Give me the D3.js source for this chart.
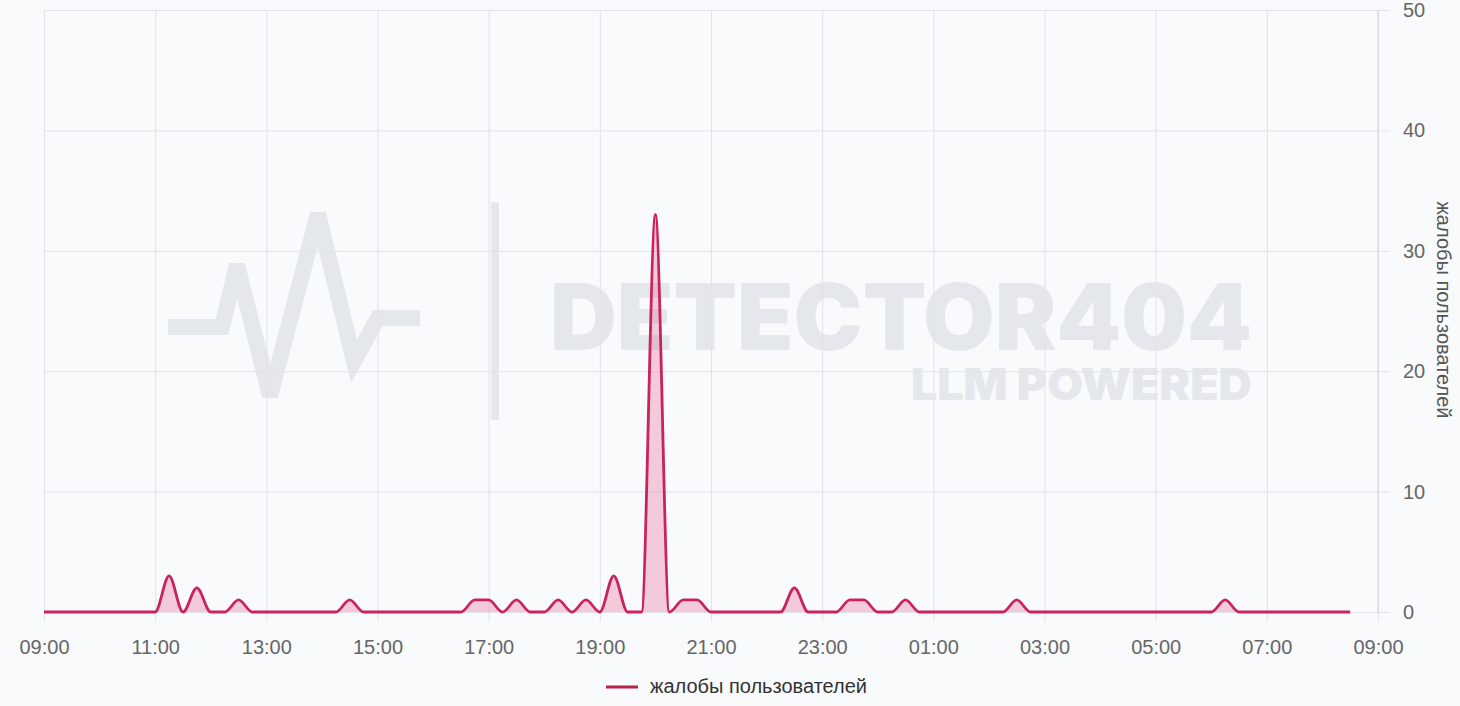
<!DOCTYPE html>
<html>
<head>
<meta charset="utf-8">
<script src="https://cdn.jsdelivr.net/npm/d3@7"></script>
<style>
  body { margin: 0; background: #f8fafc; }
  svg { display: block; font-family: "Liberation Sans", Arial, sans-serif; }
</style>
</head>
<body>
<div id="chart-container"></div>
<script>
// series: complaints per 15 minutes, starting 09:00, one row per hour
var startTime = "2024-05-01T09:00:00";
var stepMinutes = 15;
var complaints = [
    0, 0, 0, 0,     // 09
    0, 0, 0, 0,     // 10
    0, 3, 0, 2,     // 11
    0, 0, 1, 0,     // 12
    0, 0, 0, 0,     // 13
    0, 0, 1, 0,     // 14
    0, 0, 0, 0,     // 15
    0, 0, 0, 1,     // 16
    1, 0, 1, 0,     // 17
    0, 1, 0, 1,     // 18
    0, 3, 0, 0,     // 19
    33, 0, 1, 1,    // 20
    0, 0, 0, 0,     // 21
    0, 0, 2, 0,     // 22
    0, 0, 1, 1,     // 23
    0, 0, 1, 0,     // 00
    0, 0, 0, 0,     // 01
    0, 0, 1, 0,     // 02
    0, 0, 0, 0,     // 03
    0, 0, 0, 0,     // 04
    0, 0, 0, 0,     // 05
    0, 1, 0, 0,     // 06
    0, 0, 0, 0,     // 07
    0, 0, 0         // 08
];
var yTicks = [0, 10, 20, 30, 40, 50];
var seriesName = "жалобы пользователей";
var watermarkTitle = "DETECTOR404";
var watermarkSub = "LLM POWERED";

var w = 1460, h = 706;
var padLeft = 44, padRight = 1378, padTop = 10, padBottom = 612;

var t0 = new Date(startTime);
var t1 = d3.timeHour.offset(t0, 24);
var dataset = complaints.map(function(v, i){
    return { t: d3.timeMinute.offset(t0, i * stepMinutes), v: v };
});

var xScale = d3.scaleTime()
    .domain([t0, t1])
    .range([padLeft, padRight]);
var yScale = d3.scaleLinear()
    .domain([0, 50])
    .range([padBottom, padTop]);

var svg = d3.select("#chart-container").append("svg")
    .attr("width", w).attr("height", h);

svg.append("rect").attr("width", w).attr("height", h).attr("fill", "#f8fafc");

// watermark (sits behind the grid)
var wm = svg.append("g").attr("fill", "#e4e7eb").attr("stroke", "#e4e7eb");
wm.append("polyline")
    .attr("points", "168,327 222,327 237,265 270,396 318,214 354,361 378,318 420,318")
    .attr("fill", "none").attr("stroke-width", 16).attr("stroke-linejoin", "miter");
wm.append("rect").attr("x", 491).attr("y", 202).attr("width", 8).attr("height", 218).attr("stroke", "none");
wm.append("text")
    .attr("x", 550).attr("y", 350)
    .attr("stroke", "none")
    .attr("font-family", "Inter, 'DejaVu Sans', sans-serif").attr("font-weight", 900)
    .attr("font-size", 92)
    .attr("textLength", 702).attr("lengthAdjust", "spacingAndGlyphs")
    .text(watermarkTitle);
wm.append("text")
    .attr("x", 911).attr("y", 400)
    .attr("stroke", "none")
    .attr("font-family", "Inter, 'DejaVu Sans', sans-serif").attr("font-weight", 900)
    .attr("font-size", 44)
    .attr("textLength", 341).attr("lengthAdjust", "spacingAndGlyphs")
    .text(watermarkSub);

// x axis with full-height grid, every 2 hours from the start
var xAxis = d3.axisBottom(xScale)
    .tickValues(d3.timeHour.range(t0, d3.timeMinute.offset(t1, 1), 2))
    .tickFormat(d3.timeFormat("%H:%M"))
    .tickSize(-(padBottom - padTop) - 10)
    .tickPadding(18);
var gx = svg.append("g")
    .attr("transform", "translate(0," + (padBottom + 10) + ")")
    .call(xAxis);
gx.select(".domain").remove();
gx.selectAll(".tick line").attr("stroke", "#e1e3e7");
gx.selectAll(".tick text").attr("fill", "#666").attr("font-size", 20)
    .attr("font-family", "'Liberation Sans', Arial, sans-serif");

// y axis on the right
var yAxis = d3.axisRight(yScale)
    .tickValues(yTicks)
    .tickSize(0)
    .tickPadding(24);
var gy = svg.append("g")
    .attr("transform", "translate(" + (padRight + 12) + ",0)")
    .call(yAxis);
gy.select(".domain").remove();
gy.selectAll(".tick line").attr("stroke", "#e1e3e7")
    .attr("x1", 0).attr("x2", -(padRight - padLeft) - 12);
gy.selectAll(".tick text").attr("fill", "#666").attr("font-size", 20)
    .attr("x", 13)
    .attr("font-family", "'Liberation Sans', Arial, sans-serif");

svg.append("line")
    .attr("x1", padRight).attr("x2", padRight)
    .attr("y1", padTop).attr("y2", padBottom)
    .attr("stroke", "#cfd2d6");

svg.append("text")
    .attr("transform", "translate(1437," + 310 + ") rotate(90)")
    .attr("text-anchor", "middle")
    .attr("fill", "#555").attr("font-size", 20)
    .text(seriesName);

// area + line
var area = d3.area()
    .curve(d3.curveMonotoneX)
    .x(function(d){ return xScale(d.t); })
    .y0(yScale(0))
    .y1(function(d){ return yScale(d.v); });
var line = d3.line()
    .curve(d3.curveMonotoneX)
    .x(function(d){ return xScale(d.t); })
    .y(function(d){ return yScale(d.v); });

svg.append("path").datum(dataset)
    .attr("d", area)
    .attr("fill", "rgba(228, 78, 130, 0.28)");
svg.append("path").datum(dataset)
    .attr("d", line)
    .attr("fill", "none")
    .attr("stroke", "#c9225c")
    .attr("stroke-width", 2.8)
    .attr("stroke-linejoin", "round");

// legend
var lg = svg.append("g").attr("transform", "translate(606,687)");
lg.append("line").attr("x1", 0).attr("x2", 32)
    .attr("stroke", "#b8234f").attr("stroke-width", 3);
lg.append("text").attr("x", 44).attr("y", 6)
    .attr("fill", "#333").attr("font-size", 20)
    .text(seriesName);
</script>
</body>
</html>
